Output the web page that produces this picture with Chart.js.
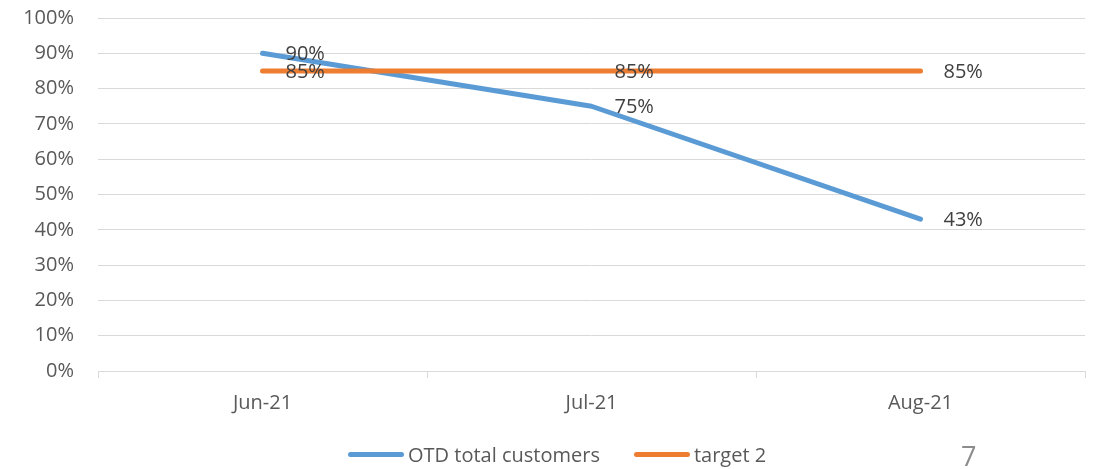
<!DOCTYPE html>
<html lang="en">
  <head>
    <meta charset="UTF-8" />
    <script src="https://cdn.jsdelivr.net/npm/chart.js"></script>
    <title>OTD total customers</title>
    <style>
      body {
        margin: 0;
        background: #fff;
        font-family: "Open Sans", sans-serif;
      }
      #wrap {
        position: relative;
        width: 1096px;
        height: 469px;
      }
      #chart {
        position: absolute;
        left: 0;
        top: 0;
      }
      .legend {
        position: absolute;
        left: 348px;
        top: 441px;
        display: flex;
        align-items: center;
        font-size: 20px;
        color: #595959;
        white-space: nowrap;
      }
      .legend .item {
        display: flex;
        align-items: center;
        margin-right: 34px;
      }
      .legend .swatch {
        width: 56px;
        height: 5px;
        border-radius: 3px;
        margin-right: 4px;
      }
      #page-num {
        position: absolute;
        left: 961px;
        top: 437px;
        font-size: 27px;
        color: #8c8c8c;
      }
    </style>
  </head>
  <body>
    <div id="wrap">
      <canvas id="chart" width="1096" height="469"></canvas>
      <div class="legend" id="legend"></div>
      <div id="page-num">7</div>
    </div>
    <script>
      // data
      const months = ['Jun-21', 'Jul-21', 'Aug-21'];
      const otdTotal = [90, 75, 43];
      const target2 = [85, 85, 85];
      const seriesNames = ['OTD total customers', 'target 2'];
      const seriesColors = ['#5b9bd5', '#ed7d31'];

      const font = { family: '"Open Sans", sans-serif', size: 20 };

      // value labels to the right of each point
      const pointLabels = {
        id: 'pointLabels',
        afterDatasetsDraw(chart) {
          const ctx = chart.ctx;
          ctx.save();
          ctx.font = `${font.size}px ${font.family}`;
          ctx.fillStyle = '#404040';
          ctx.textAlign = 'left';
          ctx.textBaseline = 'middle';
          chart.data.datasets.forEach((ds, i) => {
            chart.getDatasetMeta(i).data.forEach((pt, j) => {
              ctx.fillText(ds.data[j] + '%', pt.x + 23, pt.y + 1);
            });
          });
          ctx.restore();
        },
      };

      const chart = new Chart(document.getElementById('chart'), {
        type: 'line',
        data: {
          labels: months,
          datasets: [
            {
              label: seriesNames[0],
              data: otdTotal,
              borderColor: seriesColors[0],
              backgroundColor: seriesColors[0],
              borderWidth: 5,
              borderCapStyle: 'round',
              borderJoinStyle: 'round',
              pointRadius: 0,
              tension: 0,
              order: 1,
            },
            {
              label: seriesNames[1],
              data: target2,
              borderColor: seriesColors[1],
              backgroundColor: seriesColors[1],
              borderWidth: 5,
              borderCapStyle: 'round',
              pointRadius: 0,
              tension: 0,
              order: 0,
            },
          ],
        },
        options: {
          responsive: false,
          animation: false,
          devicePixelRatio: 1,
          layout: {
            padding: { top: 0, right: 11, bottom: 53, left: 0 },
          },
          plugins: {
            legend: { display: false },
            tooltip: { enabled: false },
          },
          scales: {
            x: {
              offset: true,
              grid: {
                offset: true,
                drawOnChartArea: false,
                drawTicks: true,
                tickLength: 7,
                color: '#d9d9d9',
              },
              border: { color: '#d9d9d9', width: 1 },
              ticks: { font, color: '#595959', padding: 13 },
              afterFit(scale) {
                scale.height = 45;
              },
            },
            y: {
              min: 0,
              max: 100,
              grid: { color: '#d9d9d9', drawTicks: false },
              border: { display: false },
              ticks: {
                stepSize: 10,
                font,
                color: '#595959',
                padding: 24,
                callback: (v) => v + '%',
              },
              afterFit(scale) {
                scale.width = 98;
                scale.paddingTop = 18;
              },
            },
          },
        },
        plugins: [pointLabels],
      });

      // html legend
      const legend = document.getElementById('legend');
      seriesNames.forEach((name, i) => {
        const item = document.createElement('div');
        item.className = 'item';
        const sw = document.createElement('span');
        sw.className = 'swatch';
        sw.style.background = seriesColors[i];
        const txt = document.createElement('span');
        txt.textContent = name;
        item.appendChild(sw);
        item.appendChild(txt);
        legend.appendChild(item);
      });
    </script>
  </body>
</html>
